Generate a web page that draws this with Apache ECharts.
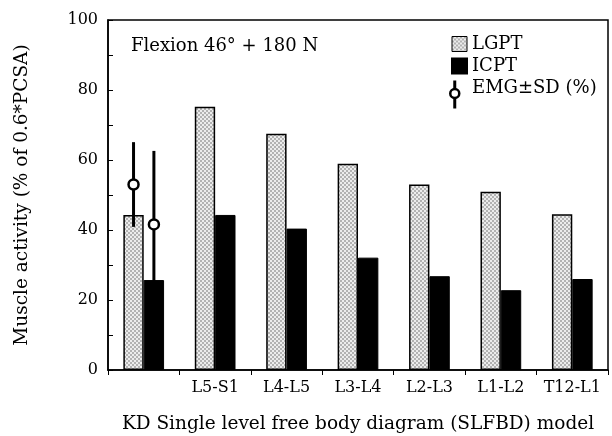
<!DOCTYPE html>
<html>
<head>
<meta charset="utf-8">
<script src="https://cdn.jsdelivr.net/npm/echarts@6/dist/echarts.min.js"></script>
<style>html,body{margin:0;padding:0;background:#fff}#c{width:612px;height:436px}</style>
</head>
<body>
<div id="c"></div>
<script>
// ---- data ----
var categories = ['', 'L5-S1', 'L4-L5', 'L3-L4', 'L2-L3', 'L1-L2', 'T12-L1'];
var lgpt = [44.3, 75.2, 67.5, 58.9, 53.0, 50.9, 44.5];
var icpt = [25.7, 44.3, 40.4, 32.1, 26.8, 22.8, 26.0];
// EMG mean and SD, placed in first category over LGPT (-1) and ICPT (+1) bars
var emgMean = [53.0, 41.6];
var emgSD = [12.1, 21.0];
var emgSide = [-1, 1];
var yTicks = [0, 20, 40, 60, 80, 100];

var FONT = 'DejaVu Serif';
var BARW = 0.285;

function makePattern() {
  var cv = document.createElement('canvas');
  cv.width = 4; cv.height = 4;
  var ctx = cv.getContext('2d');
  ctx.fillStyle = '#ececec'; ctx.fillRect(0, 0, 4, 4);
  ctx.fillStyle = '#b2b2b2';
  ctx.fillRect(0, 0, 2, 2); ctx.fillRect(2, 2, 2, 2);
  return cv;
}
var pattern = { image: makePattern(), repeat: 'repeat' };

var emgData = emgMean.map(function (m, i) { return [0, m, emgSD[i], emgSide[i]]; });

var chart = echarts.init(document.getElementById('c'), null, { renderer: 'canvas' });
chart.setOption({
  animation: false,
  backgroundColor: '#fff',
  grid: { left: 108, right: 4, top: 20, bottom: 66, show: true, borderColor: '#000', borderWidth: 1.5,
    backgroundColor: 'transparent', containLabel: false, outerBoundsMode: 'none' },
  legend: {
    orient: 'vertical', left: 446, top: 30, itemWidth: 15, itemHeight: 15, itemGap: 4,
    textStyle: { fontFamily: FONT, fontSize: 18, color: '#000' },
    data: [
      { name: 'LGPT', icon: 'rect', itemStyle: { borderColor: '#000', borderWidth: 1 } },
      { name: 'ICPT', icon: 'rect' },
      { name: 'EMG±SD (%)', icon: 'none' }
    ],
    selectedMode: false
  },
  graphic: [
    { type: 'text', left: 131, top: 37, style: { text: 'Flexion 46° + 180 N', font: '18px "' + FONT + '"', fill: '#000' } },
    { type: 'group', left: 449, top: 78, children: [
      { type: 'line', shape: { x1: 5, y1: 0, x2: 5, y2: 28 }, style: { stroke: '#000', lineWidth: 3 } },
      { type: 'circle', shape: { cx: 5, cy: 13, r: 4.5 }, style: { fill: '#fff', stroke: '#000', lineWidth: 2.5 } }
    ] }
  ],
  xAxis: {
    type: 'category', data: categories,
    name: 'KD Single level free body diagram (SLFBD) model', nameLocation: 'middle', nameGap: 45,
    nameTextStyle: { fontFamily: FONT, fontSize: 18.5, color: '#000' },
    axisLine: { lineStyle: { color: '#000', width: 1.5 } },
    axisTick: { show: true, inside: false, length: 5, lineStyle: { color: '#000' } },
    axisLabel: { fontFamily: FONT, fontSize: 16, color: '#000', margin: 10, interval: 0 },
    splitLine: { show: false }
  },
  yAxis: {
    type: 'value', min: 0, max: 100, interval: 20,
    name: 'Muscle activity (% of 0.6*PCSA)', nameLocation: 'middle', nameGap: 76, nameRotate: 90,
    nameTextStyle: { fontFamily: FONT, fontSize: 18.5, color: '#000' },
    axisLine: { show: true, lineStyle: { color: '#000', width: 1.5 } },
    axisTick: { show: true, inside: true, length: 5, lineStyle: { color: '#000' } },
    minorTick: { show: true, splitNumber: 2, length: 5, lineStyle: { color: '#000' } },
    axisLabel: { fontFamily: FONT, fontSize: 16, color: '#000', margin: 10,
      formatter: function (v) { return yTicks.indexOf(v) >= 0 ? String(v) : ''; } },
    splitLine: { show: false }
  },
  series: [
    { name: 'LGPT', type: 'bar', data: lgpt, barWidth: (BARW * 100) + '%', barGap: '0%',
      itemStyle: { color: pattern, borderColor: '#000', borderWidth: 1.5 } },
    { name: 'ICPT', type: 'bar', data: icpt, barWidth: (BARW * 100) + '%', barGap: '0%',
      itemStyle: { color: '#000', borderColor: '#000', borderWidth: 1 } },
    { name: 'EMG±SD (%)', type: 'custom', data: emgData, z: 10,
      itemStyle: { color: '#000' },
      renderItem: function (params, api) {
        var cat = api.value(0), m = api.value(1), sd = api.value(2), side = api.value(3);
        var c = api.coord([cat, m]);
        var band = api.size([1, 0])[0];
        var x = c[0] + side * band * BARW / 2;
        var yt = api.coord([cat, m + sd])[1];
        var yb = api.coord([cat, m - sd])[1];
        return { type: 'group', children: [
          { type: 'line', shape: { x1: x, y1: yt, x2: x, y2: yb }, style: { stroke: '#000', lineWidth: 3 } },
          { type: 'circle', shape: { cx: x, cy: c[1], r: 5 }, style: { fill: '#fff', stroke: '#000', lineWidth: 2.5 } }
        ] };
      }
    }
  ]
});
</script>
</body>
</html>
